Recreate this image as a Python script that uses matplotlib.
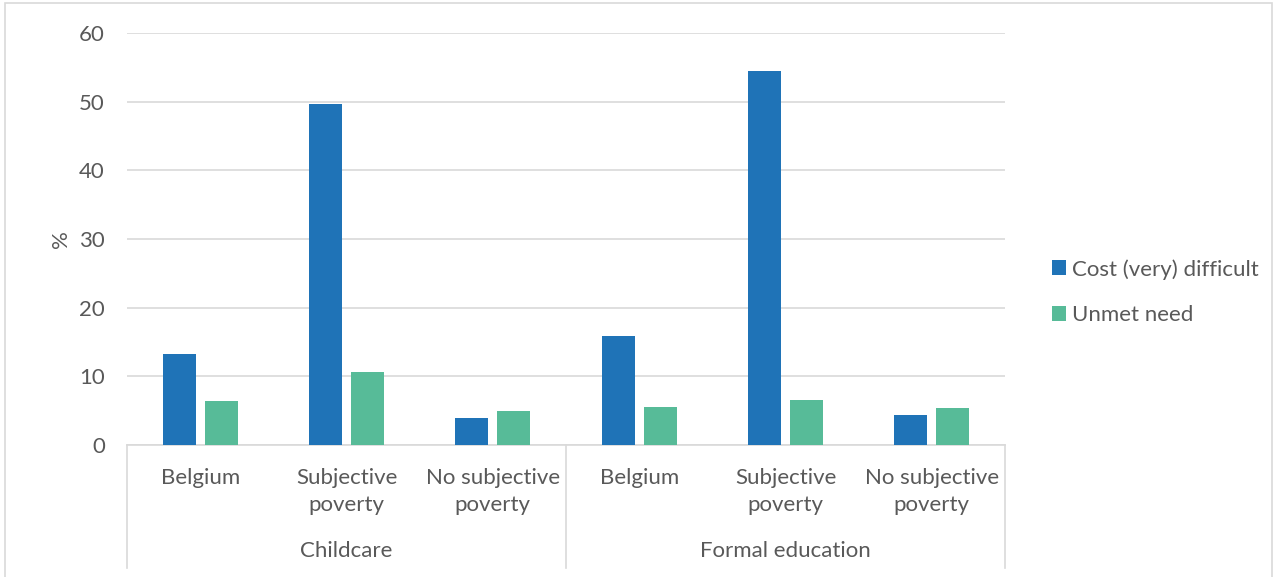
import matplotlib
matplotlib.use("Agg")
import matplotlib.pyplot as plt
import matplotlib.transforms as mtransforms
from matplotlib.patches import Rectangle, Patch
import numpy as np

plt.rcParams["font.family"] = ["Lato", "DejaVu Sans"]

groups = ["Childcare", "Formal education"]
categories = ["Belgium", "Subjective\npoverty", "No subjective\npoverty"]
series = ["Cost (very) difficult", "Unmet need"]
cost = [13.3, 49.6, 4.0, 15.9, 54.4, 4.3]
unmet = [6.4, 10.7, 5.0, 5.6, 6.6, 5.4]
yticks = [0, 10, 20, 30, 40, 50, 60]

BLUE = "#1F73B7"
GREEN = "#57BB98"
TXT = "#595959"
GRID = "#D9D9D9"
FS = 16

fig = plt.figure(figsize=(12.74, 5.77), dpi=100)
ax = fig.add_axes([127 / 1274, 1 - 445 / 577, (1005 - 127) / 1274, (445 - 33) / 577])

x = np.arange(len(cost))
w = 0.226
ax.bar(x - 0.143, cost, w, color=BLUE, label=series[0], zorder=3)
ax.bar(x + 0.143, unmet, w, color=GREEN, label=series[1], zorder=3)

ax.set_xlim(-0.5, len(cost) - 0.5)
ax.set_ylim(0, 60)
ax.set_yticks(yticks)
ax.yaxis.grid(True, color=GRID, lw=1.2, zorder=0)
ax.tick_params(axis="y", length=0, labelsize=FS, colors=TXT, pad=16)
ax.tick_params(axis="x", length=0, labelbottom=False)
for s in ["top", "right", "left"]:
    ax.spines[s].set_visible(False)
ax.spines["bottom"].set_color(GRID)
ax.spines["bottom"].set_linewidth(1.2)
ax.set_ylabel("%", fontsize=FS, color=TXT, labelpad=6)

# two-level category axis
tr = mtransforms.blended_transform_factory(ax.transData, ax.transAxes)
ah = (445 - 33)
depth = -(568 - 445) / ah
for xv in [-0.5, 2.5, 5.5]:
    ax.plot([xv, xv], [0, depth], transform=tr, color=GRID, lw=1.2, clip_on=False)
for i in range(len(cost)):
    ax.text(i, -(468 - 445) / ah, categories[i % 3], transform=tr, ha="center", va="top",
            fontsize=FS, color=TXT, linespacing=1.42)
for g, name in enumerate(groups):
    ax.text(3 * g + 1, -(551 - 445) / ah, name, transform=tr, ha="center", va="center",
            fontsize=FS, color=TXT)

handles = [Patch(facecolor=BLUE, label=series[0]), Patch(facecolor=GREEN, label=series[1])]
fig.legend(handles=handles, loc="center left", bbox_to_anchor=(1032 / 1274, 1 - 292 / 577),
           frameon=False, fontsize=FS, labelcolor=TXT, handlelength=0.65, handleheight=0.65,
           handletextpad=0.25, labelspacing=1.15)

fig.patches.append(Rectangle((5 / 1274, -0.02), 1267 / 1274, 1 - 3 / 577 + 0.02,
                             transform=fig.transFigure, fill=False, edgecolor=GRID, lw=1.2))

fig.savefig("out.png", dpi=100)
